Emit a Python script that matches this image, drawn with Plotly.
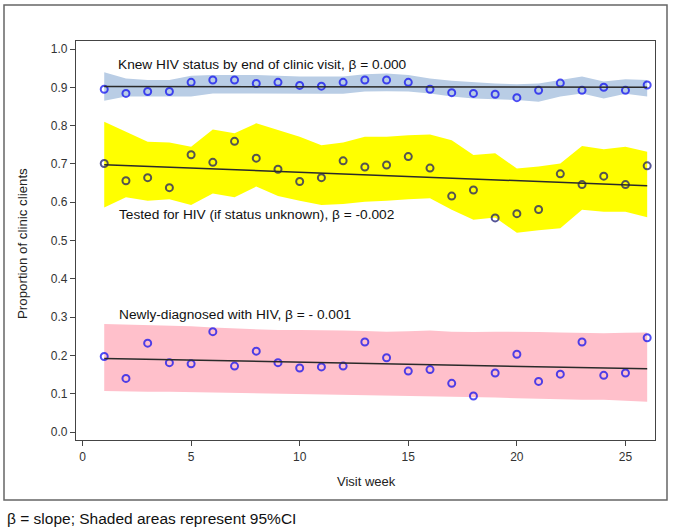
import plotly.graph_objects as go

weeks = list(range(1, 27))

knew = [0.895, 0.884, 0.889, 0.889, 0.913, 0.919, 0.919, 0.910, 0.913, 0.905, 0.903, 0.913, 0.919,
        0.919, 0.913, 0.895, 0.886, 0.884, 0.882, 0.873, 0.892, 0.911, 0.892, 0.900, 0.892, 0.906]
knew_hi = [0.939, 0.923, 0.919, 0.919, 0.930, 0.932, 0.932, 0.932, 0.930, 0.928, 0.928, 0.928, 0.934,
           0.936, 0.932, 0.923, 0.917, 0.913, 0.910, 0.908, 0.910, 0.919, 0.928, 0.915, 0.921, 0.919]
knew_lo = [0.865, 0.876, 0.876, 0.876, 0.876, 0.884, 0.884, 0.883, 0.883, 0.883, 0.883, 0.883, 0.889,
           0.890, 0.889, 0.884, 0.876, 0.871, 0.869, 0.867, 0.862, 0.876, 0.884, 0.871, 0.883, 0.876]

tested = [0.701, 0.656, 0.664, 0.638, 0.724, 0.704, 0.759, 0.715, 0.686, 0.654, 0.664, 0.708, 0.692,
          0.697, 0.719, 0.689, 0.616, 0.632, 0.559, 0.570, 0.581, 0.674, 0.646, 0.668, 0.646, 0.695]
tested_hi = [0.810, 0.784, 0.758, 0.756, 0.745, 0.790, 0.780, 0.806, 0.789, 0.771, 0.749, 0.756, 0.771,
             0.771, 0.775, 0.777, 0.762, 0.723, 0.728, 0.688, 0.693, 0.701, 0.747, 0.738, 0.745, 0.732]
tested_lo = [0.586, 0.613, 0.604, 0.608, 0.593, 0.623, 0.613, 0.641, 0.616, 0.604, 0.593, 0.595, 0.601,
             0.604, 0.608, 0.610, 0.580, 0.554, 0.560, 0.520, 0.527, 0.532, 0.580, 0.575, 0.575, 0.561]

newdx = [0.197, 0.140, 0.232, 0.181, 0.178, 0.262, 0.172, 0.211, 0.181, 0.167, 0.170, 0.172, 0.235,
         0.194, 0.159, 0.163, 0.127, 0.094, 0.154, 0.203, 0.132, 0.151, 0.235, 0.148, 0.154, 0.246]
newdx_hi = [0.282, 0.281, 0.279, 0.277, 0.276, 0.273, 0.271, 0.268, 0.266, 0.266, 0.266, 0.265, 0.264,
            0.262, 0.263, 0.265, 0.262, 0.261, 0.262, 0.262, 0.261, 0.260, 0.259, 0.258, 0.259, 0.260]
newdx_lo = [0.107, 0.106, 0.105, 0.105, 0.104, 0.103, 0.103, 0.101, 0.100, 0.099, 0.098, 0.097, 0.095,
            0.095, 0.094, 0.092, 0.092, 0.091, 0.090, 0.088, 0.087, 0.085, 0.084, 0.084, 0.082, 0.079]

fit_x = [1, 26]
knew_fit = [0.902, 0.900]
tested_fit = [0.698, 0.643]
newdx_fit = [0.192, 0.165]

x_ticks = [0, 5, 10, 15, 20, 25]
y_ticks = [0.0, 0.1, 0.2, 0.3, 0.4, 0.5, 0.6, 0.7, 0.8, 0.9, 1.0]

labels = {
    "knew": "Knew HIV status by end of clinic visit, \u03b2 = 0.000",
    "tested": "Tested for HIV (if status unknown), \u03b2 = -0.002",
    "newdx": "Newly-diagnosed with HIV, \u03b2 = - 0.001",
}

fig = go.Figure()

bands = [
    (knew_lo, knew_hi, "#b9cde5"),
    (tested_lo, tested_hi, "#ffff00"),
    (newdx_lo, newdx_hi, "#ffc0cb"),
]
for lo, hi, col in bands:
    fig.add_trace(go.Scatter(x=weeks + weeks[::-1], y=hi + lo[::-1], fill="toself",
                             fillcolor=col, line=dict(width=0), mode="lines",
                             hoverinfo="skip", showlegend=False))

marker_cols = ["rgba(10,10,240,0.72)", "rgba(20,20,110,0.72)", "rgba(10,10,240,0.72)"]
for ser, mc in zip((knew, tested, newdx), marker_cols):
    fig.add_trace(go.Scatter(x=weeks, y=ser, mode="markers", showlegend=False,
                             marker=dict(symbol="circle-open", size=7, color=mc,
                                         line=dict(width=2))))

for fit in (knew_fit, tested_fit, newdx_fit):
    fig.add_trace(go.Scatter(x=fit_x, y=fit, mode="lines", showlegend=False,
                             line=dict(color="#2a2a2a", width=1.5)))

font = "Liberation Sans, Arial, sans-serif"
ann_font = dict(family=font, size=13.7, color="#111")
fig.add_annotation(x=1.53, y=0.960, text=labels["knew"], showarrow=False,
                   xanchor="left", yanchor="middle", font=ann_font)
fig.add_annotation(x=1.57, y=0.568, text=labels["tested"], showarrow=False,
                   xanchor="left", yanchor="middle", font=ann_font)
fig.add_annotation(x=1.57, y=0.308, text=labels["newdx"], showarrow=False,
                   xanchor="left", yanchor="middle", font=ann_font)

W, H = 673, 531
L, R, T, B = 76, 18, 41, 91
pw, ph = W - L - R, H - T - B

def px(xp):
    return (xp - L) / pw

def py(yp):
    return (H - B - yp) / ph

fig.add_annotation(xref="paper", yref="paper", x=px(22), y=py(244), text="Proportion of clinic clients",
                   textangle=-90, showarrow=False, xanchor="center", yanchor="middle",
                   font=dict(family=font, size=13.3, color="#222"))
fig.add_annotation(xref="paper", yref="paper", x=px(366), y=py(481), text="Visit week",
                   showarrow=False, xanchor="center", yanchor="middle",
                   font=dict(family=font, size=13, color="#222"))
fig.add_annotation(xref="paper", yref="paper", x=px(5), y=py(518), xanchor="left", yanchor="middle",
                   text="\u03b2 = slope; Shaded areas represent 95%CI",
                   showarrow=False, font=dict(family=font, size=15.5, color="#111"))

fig.add_shape(type="rect", xref="paper", yref="paper", x0=px(4), x1=px(667), y0=py(500), y1=py(5),
              line=dict(color="#666", width=1.5))

axis_common = dict(showgrid=False, zeroline=False, showline=True, mirror=True,
                   linecolor="#444", linewidth=1.3, ticks="outside", ticklen=5,
                   tickcolor="#444", tickfont=dict(family=font, size=12, color="#333"))
fig.update_xaxes(range=[-0.30, 26.36], tickvals=x_ticks, **axis_common)
fig.update_yaxes(range=[-0.0209, 1.0209], tickvals=y_ticks, tickformat=".1f", **axis_common)

fig.update_layout(width=W, height=H, margin=dict(l=L, r=R, t=T, b=B),
                  paper_bgcolor="white", plot_bgcolor="white")

fig.write_html("out.html", config={"displayModeBar": False},
               post_script="document.body.style.margin='0';document.body.style.overflow='hidden';")
